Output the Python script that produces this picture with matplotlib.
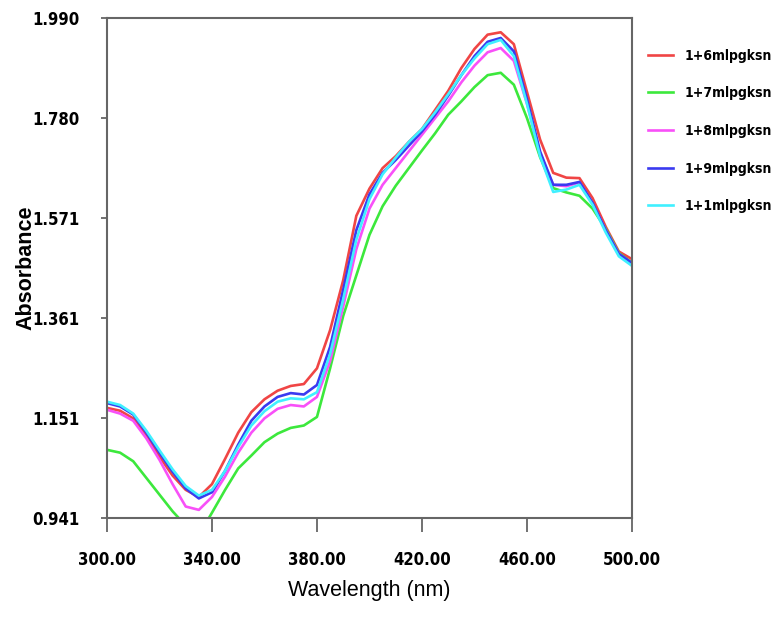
import matplotlib.pyplot as plt
from matplotlib import font_manager

wavelength = [300, 305, 310, 315, 320, 325, 330, 335, 340, 345, 350, 355, 360,
              365, 370, 375, 380, 385, 390, 395, 400, 405, 410, 415, 420, 425,
              430, 435, 440, 445, 450, 455, 460, 465, 470, 475, 480, 485, 490,
              495, 500]

abs_6 = [1.172, 1.166, 1.150, 1.113, 1.070, 1.030, 1.000, 0.985, 1.012, 1.065,
         1.120, 1.163, 1.190, 1.208, 1.218, 1.222, 1.255, 1.335, 1.440, 1.575,
         1.632, 1.675, 1.700, 1.730, 1.757, 1.797, 1.837, 1.885, 1.925, 1.955,
         1.960, 1.935, 1.835, 1.735, 1.665, 1.655, 1.654, 1.612, 1.552, 1.500,
         1.484]
abs_7 = [1.084, 1.078, 1.060, 1.025, 0.990, 0.955, 0.925, 0.905, 0.952, 1.000,
         1.045, 1.072, 1.100, 1.118, 1.130, 1.135, 1.153, 1.255, 1.365, 1.450,
         1.535, 1.595, 1.638, 1.675, 1.712, 1.748, 1.787, 1.815, 1.845, 1.870,
         1.875, 1.850, 1.780, 1.698, 1.633, 1.624, 1.617, 1.590, 1.548, 1.497,
         1.476]
abs_8 = [1.168, 1.160, 1.145, 1.108, 1.063, 1.012, 0.965, 0.958, 0.985, 1.028,
         1.078, 1.120, 1.150, 1.170, 1.178, 1.175, 1.195, 1.270, 1.385, 1.505,
         1.590, 1.640, 1.675, 1.710, 1.745, 1.780, 1.815, 1.855, 1.890, 1.918,
         1.927, 1.900, 1.810, 1.705, 1.640, 1.637, 1.645, 1.600, 1.545, 1.495,
         1.474]
abs_9 = [1.182, 1.175, 1.158, 1.120, 1.078, 1.038, 1.003, 0.982, 0.995, 1.040,
         1.095, 1.145, 1.175, 1.195, 1.203, 1.200, 1.220, 1.300, 1.420, 1.545,
         1.620, 1.665, 1.692, 1.722, 1.752, 1.787, 1.827, 1.870, 1.910, 1.940,
         1.948, 1.920, 1.820, 1.710, 1.640, 1.640, 1.646, 1.602, 1.545, 1.495,
         1.476]
abs_1 = [1.185, 1.178, 1.160, 1.124, 1.083, 1.043, 1.008, 0.988, 1.000, 1.040,
         1.090, 1.135, 1.165, 1.185, 1.192, 1.190, 1.205, 1.285, 1.400, 1.525,
         1.610, 1.662, 1.697, 1.730, 1.757, 1.792, 1.830, 1.870, 1.905, 1.935,
         1.944, 1.910, 1.810, 1.700, 1.625, 1.630, 1.640, 1.598, 1.540, 1.490,
         1.470]

labels = ["1+6mlpgksn", "1+7mlpgksn", "1+8mlpgksn", "1+9mlpgksn", "1+1mlpgksn"]
series = [abs_6, abs_7, abs_8, abs_9, abs_1]
colors = ["#f04545", "#3ce83c", "#f850f8", "#3a3af0", "#40f0ff"]

x_ticks = [300, 340, 380, 420, 460, 500]
y_ticks = [0.941, 1.151, 1.361, 1.571, 1.780, 1.990]


def narrow_font(size):
    # look for a condensed / narrow bold face among installed files
    files = [f.fname for f in font_manager.fontManager.ttflist]
    for key in ["LiberationSansNarrow-Bold.", "DejaVuSansCondensed-Bold.",
                "LiberationSansNarrow-Regular.", "DejaVuSansCondensed."]:
        for fn in files:
            if key in fn:
                return font_manager.FontProperties(fname=fn, size=size)
    return font_manager.FontProperties(family="DejaVu Sans", weight="bold",
                                       stretch="condensed", size=size)


tick_fp = narrow_font(12)
leg_fp = narrow_font(10)

fig = plt.figure(figsize=(7.74, 6.24), dpi=100)
ax = fig.add_axes([0.1382, 0.1699, 0.6783, 0.8013])

for vals, lab, col in zip(series, labels, colors):
    ax.plot(wavelength, vals, color=col, lw=1.9, label=lab)

ax.set_xlim(300, 500)
ax.set_ylim(0.941, 1.990)
ax.set_xticks(x_ticks)
ax.set_xticklabels([f"{v:.2f}" for v in x_ticks])
ax.set_yticks(y_ticks)
ax.set_yticklabels([f"{v:.3f}" for v in y_ticks])

for s in ax.spines.values():
    s.set_color("#666666")
    s.set_linewidth(1.5)
ax.tick_params(axis="x", length=10, width=1.3, color="#666666", pad=14)
ax.tick_params(axis="y", length=4, width=1.3, color="#666666", pad=16)
for t in ax.get_xticklabels() + ax.get_yticklabels():
    t.set_fontproperties(tick_fp)

ax.set_xlabel("Wavelength (nm)", family="Liberation Sans", fontsize=15.5)
ax.set_ylabel("Absorbance", family="Liberation Sans", fontsize=15.5,
              fontweight="bold")
ax.xaxis.set_label_coords(0.5, -0.125)
ax.yaxis.set_label_coords(-0.135, 0.5)

fig.legend(loc="upper left", bbox_to_anchor=(0.821, 0.942), frameon=False,
           handlelength=1.8, handletextpad=0.8, labelspacing=1.7, prop=leg_fp)

fig.savefig("out.png", dpi=100)
